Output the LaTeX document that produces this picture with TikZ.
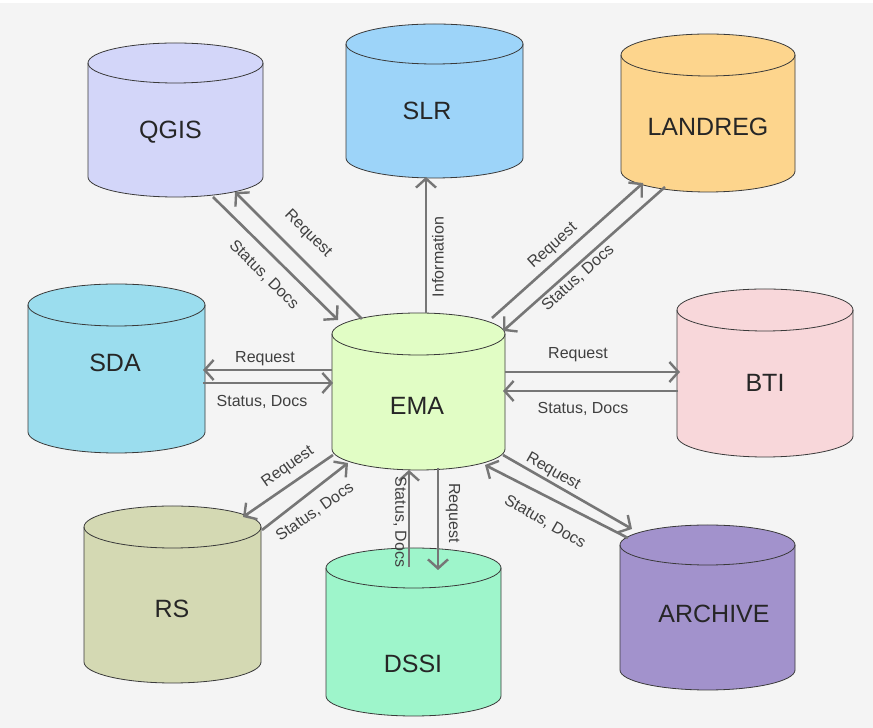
\documentclass[tikz,border=0pt]{standalone}
\usepackage{fontspec}
\setmainfont{Liberation Sans}
\usetikzlibrary{arrows.meta}
\definecolor{bgc}{HTML}{F4F4F4}
\definecolor{arrc}{HTML}{767676}
\definecolor{edgec}{HTML}{3A3A3A}
\definecolor{cQGIS}{HTML}{D3D6F9}
\definecolor{cSLR}{HTML}{9DD4F9}
\definecolor{cLAND}{HTML}{FDD58D}
\definecolor{cSDA}{HTML}{9BDDEE}
\definecolor{cEMA}{HTML}{E1FDC5}
\definecolor{cBTI}{HTML}{F8D7DA}
\definecolor{cRS}{HTML}{D4D9B3}
\definecolor{cDSSI}{HTML}{9EF5CB}
\definecolor{cARCH}{HTML}{A292CC}
\tikzset{
  cylbody/.style={draw=edgec, line width=0.8pt},
  cyllabel/.style={text=black!85, font=\fontsize{25}{30}\selectfont, inner sep=0pt},
  arr/.style={draw=arrc, line width=2.6pt, line cap=butt, -{Straight Barb[length=9pt,width=20pt,line width=2.4pt]}},
  arrlabel/.style={text=black!75, font=\fontsize{16}{19}\selectfont, inner sep=0pt}
}
% #1 name, #2 colour, #3 cx, #4 top-centre y, #5 bottom-centre y, #6 rx, #7 ry, #8 label x, #9 label y
\newcommand\dbcyl[9]{%
  \filldraw[cylbody, fill=#2] (#3-#6, 728-#4) -- (#3-#6, 728-#5)
     arc[start angle=180, end angle=360, x radius=#6pt, y radius=#7pt]
     -- (#3+#6, 728-#4)
     arc[start angle=0, end angle=180, x radius=#6pt, y radius=#7pt] -- cycle;
  \draw[cylbody] (#3-#6, 728-#4) arc[start angle=180, end angle=360, x radius=#6pt, y radius=#7pt];
  \node[cyllabel] (#1) at (#8, 728-#9) {#1};
}
\begin{document}
\begin{tikzpicture}[x=1pt,y=1pt]
\fill[bgc] (0,0) rectangle (873,728);
\fill[white] (0,725) rectangle (873,728);
\useasboundingbox (0,0) rectangle (873,728);

\dbcyl{QGIS}{cQGIS}{175.5}{63}{177}{87.5}{20}{170.5}{132}
\dbcyl{SLR}{cSLR}{434.5}{44}{158}{88.5}{20}{427}{111}
\dbcyl{LANDREG}{cLAND}{708}{55}{171}{87}{21}{708}{127}
\dbcyl{SDA}{cSDA}{116.5}{305}{432}{88.5}{21}{115}{363}
\dbcyl{EMA}{cEMA}{418.5}{334}{449}{86.5}{21}{417}{406}
\dbcyl{BTI}{cBTI}{765}{310}{436}{88}{21}{765}{383}
\dbcyl{RS}{cRS}{172.5}{527}{662}{88.5}{21}{172}{609}
\dbcyl{DSSI}{cDSSI}{413.5}{568}{696}{87.5}{20}{413}{664}
\dbcyl{ARCHIVE}{cARCH}{707.5}{545}{670}{87.5}{20}{714}{614}

% connector end points
\coordinate (emaQa) at (362,728-319);  \coordinate (qgisA) at (235,728-192);
\coordinate (qgisB) at (213,728-197);  \coordinate (emaQb) at (338,728-320);
\coordinate (emaS)  at (426,728-313);  \coordinate (slrA)  at (426,728-177);
\coordinate (emaLa) at (492,728-318);  \coordinate (landA) at (643,728-183);
\coordinate (landB) at (665,728-187);  \coordinate (emaLb) at (503,728-331);
\coordinate (emaDa) at (332,728-370);  \coordinate (sdaA)  at (203,728-370);
\coordinate (sdaB)  at (203,728-383);  \coordinate (emaDb) at (333,728-383);
\coordinate (emaBa) at (505,728-372);  \coordinate (btiA)  at (680,728-372);
\coordinate (btiB)  at (678,728-391);  \coordinate (emaBb) at (503,728-391);
\coordinate (emaRa) at (333,728-455);  \coordinate (rsA)   at (243,728-517);
\coordinate (rsB)   at (262,728-530);  \coordinate (emaRb) at (348,728-463);
\coordinate (dssiB) at (409,728-567);  \coordinate (emaXb) at (409,728-470);
\coordinate (emaXa) at (438,728-468);  \coordinate (dssiA) at (438,728-570);
\coordinate (emaAa) at (503,728-455);  \coordinate (archA) at (632,728-529);
\coordinate (archB) at (628,728-538);  \coordinate (emaAb) at (485,728-465);

\draw[arr] (emaQa) -- (qgisA);
\draw[arr] (qgisB) -- (emaQb);
\draw[arr] (emaS) -- (slrA);
\draw[arr] (emaLa) -- (landA);
\draw[arr] (landB) -- (emaLb);
\draw[arr] (emaDa) -- (sdaA);
\draw[arr] (sdaB) -- (emaDb);
\draw[arr] (emaBa) -- (btiA);
\draw[arr] (btiB) -- (emaBb);
\draw[arr] (emaRa) -- (rsA);
\draw[arr] (rsB) -- (emaRb);
\draw[arr] (dssiB) -- (emaXb);
\draw[arr] (emaXa) -- (dssiA);
\draw[arr] (emaAa) -- (archA);
\draw[arr] (archB) -- (emaAb);

% labels
\node[arrlabel, rotate=-45] (lq1) at (308,728-234) {Request};
\node[arrlabel, rotate=-45] (lq2) at (264,728-275) {Status, Docs};
\node[arrlabel, rotate=90]  (ls1) at (438,728-257) {Information};
\node[arrlabel, rotate=42]  (ll1) at (553,728-246) {Request};
\node[arrlabel, rotate=42]  (ll2) at (578,728-278) {Status, Docs};
\node[arrlabel] (ld1) at (265,728-359) {Request};
\node[arrlabel] (ld2) at (262,728-402) {Status, Docs};
\node[arrlabel] (lb1) at (578,728-355) {Request};
\node[arrlabel] (lb2) at (583,728-409) {Status, Docs};
\node[arrlabel, rotate=35]  (lr1) at (288,728-467) {Request};
\node[arrlabel, rotate=35]  (lr2) at (315,728-512) {Status, Docs};
\node[arrlabel, rotate=-90] (lx2) at (400,728-522) {Status, Docs};
\node[arrlabel, rotate=-90] (lx1) at (453,728-513) {Request};
\node[arrlabel, rotate=-30] (la1) at (553,728-472) {Request};
\node[arrlabel, rotate=-30] (la2) at (545,728-522) {Status, Docs};
\end{tikzpicture}
\end{document}
